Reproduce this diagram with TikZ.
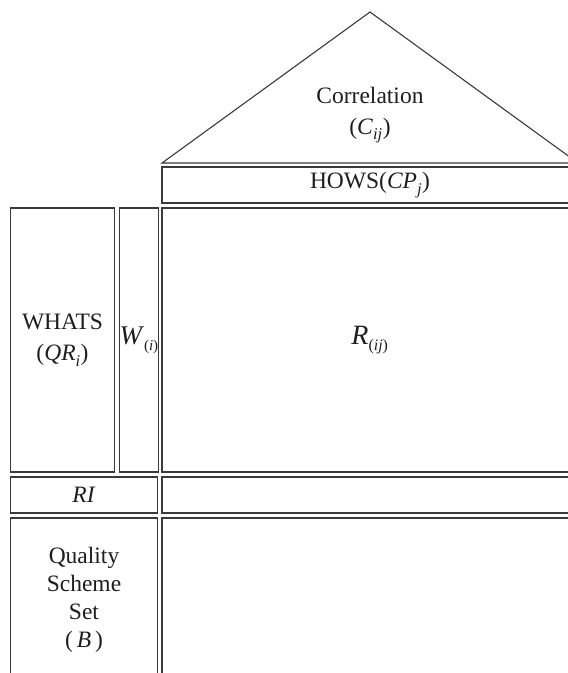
\documentclass[tikz,border=0pt]{standalone}
\usepackage{fontspec}
\setmainfont{Liberation Serif}
\definecolor{linecol}{HTML}{3A3A3A}
\definecolor{txtcol}{HTML}{1E1E1E}
\newcommand\itsub[2]{\textit{#1}\textsubscript{\raisebox{-2pt}{\textit{#2}}}}
\tikzset{
  cell/.style={draw=linecol, line width=1.2pt, rectangle, inner sep=0pt, outer sep=0pt,
    anchor=north west, align=center, text=txtcol,
    font=\fontsize{23.5}{31}\selectfont},
  lbl/.style={inner sep=0pt, align=center, text=txtcol, font=\fontsize{23.5}{31}\selectfont},
  roof/.style={draw=linecol, line width=1.1pt, line join=miter}
}
\begin{document}
\begin{tikzpicture}[x=1pt,y=-1pt]
\useasboundingbox (0,0) rectangle (568,673);
\clip (0,0) rectangle (568,673);
% roof
\coordinate (apex) at (370,12);
\coordinate (bl) at (162,163);
\coordinate (br) at (578,163);
\draw[roof] (bl) -- (apex) -- (br) -- cycle;
\node[lbl] (corr) at (370,115) {Correlation\\(\itsub{C}{ij})};
% hows
\node[cell, minimum width=416, minimum height=36] (hows) at (162,167) {HOWS(\itsub{CP}{j})};
% middle
\node[cell, minimum width=104, minimum height=264] (whats) at (10.5,208) {WHATS\\(\itsub{QR}{i})};
\node[cell, minimum width=39, minimum height=264] (w) at (119.5,208)
  {\fontsize{27}{30}\selectfont\textit{W}\textsubscript{\raisebox{-2pt}{\fontsize{15}{18}\selectfont(\textit{i})}}};
\node[cell, minimum width=416, minimum height=264] (r) at (162,208)
  {\raisebox{8pt}{\fontsize{28}{30}\selectfont\textit{R}\textsubscript{\raisebox{-2pt}{\fontsize{16}{18}\selectfont(\textit{ij})}}}};
% RI row
\node[cell, minimum width=147, minimum height=36] (ri) at (10.5,477) {\textit{RI}};
\node[cell, minimum width=416, minimum height=36] (rirow) at (162,477) {};
% bottom row
\node[cell, minimum width=147, minimum height=164] (qs) at (10.5,518) {Quality\\[-3pt]Scheme\\[-3pt]Set\\[-3pt](\,\textit{B}\,)};
\node[cell, minimum width=416, minimum height=164] (qsrow) at (162,518) {};
\end{tikzpicture}
\end{document}
